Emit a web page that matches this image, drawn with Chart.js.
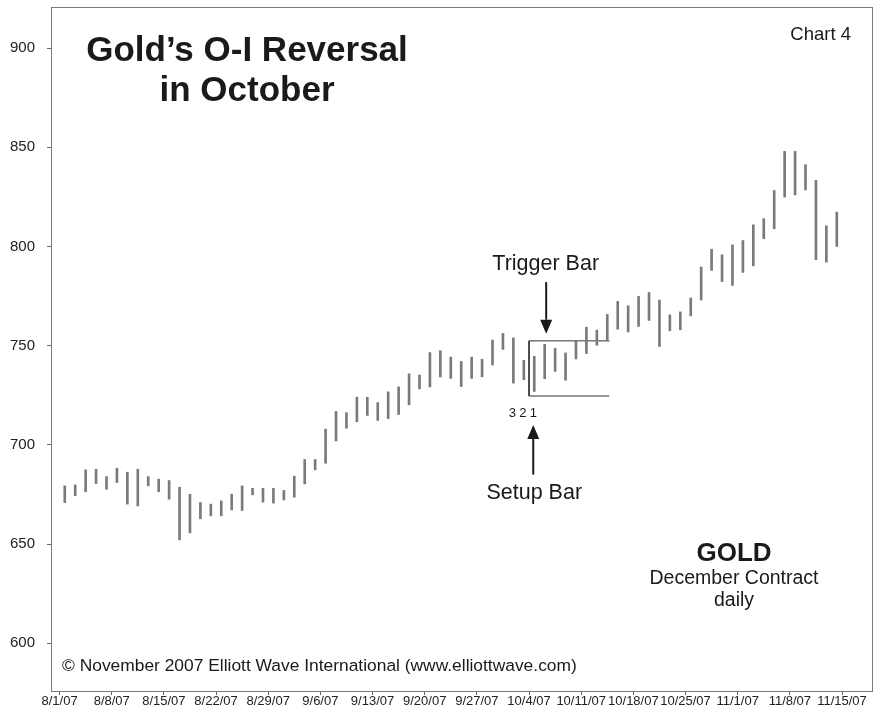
<!DOCTYPE html>
<html>
<head>
<meta charset="utf-8">
<script src="https://cdn.jsdelivr.net/npm/chart.js@4.4.0/dist/chart.umd.min.js"></script>
<style>
html,body{margin:0;padding:0;background:#fff}
#wrap{width:879px;height:709px;position:relative}
</style>
</head>
<body>
<div id="wrap"><canvas id="goldChart"></canvas></div>
<script>

/* DATA */

const tickLabels = ["8/1/07","8/8/07","8/15/07","8/22/07","8/29/07","9/6/07","9/13/07","9/20/07",
"9/27/07","10/4/07","10/11/07","10/18/07","10/25/07","11/1/07","11/8/07","11/15/07"]

const days = [
"8/1","8/2","8/3","8/6","8/7","8/8","8/9","8/10","8/13","8/14","8/15","8/16","8/17",
"8/20","8/21","8/22","8/23","8/24","8/27","8/28","8/29","8/30","8/31",
"9/4","9/5","9/6","9/7","9/10","9/11","9/12","9/13","9/14","9/17","9/18","9/19","9/20","9/21",
"9/24","9/25","9/26","9/27","9/28",
"10/1","10/2","10/3","10/4","10/5","10/8","10/9","10/10","10/11","10/12","10/15","10/16","10/17",
"10/18","10/19","10/22","10/23","10/24","10/25","10/26","10/29","10/30","10/31",
"11/1","11/2","11/5","11/6","11/7","11/8","11/9","11/12","11/13","11/14"]

const highs = [
679.3,679.8,687.4,687.7,684.0,688.2,686.2,687.7,684.0,682.7,682.0,678.6,675.1,
670.9,670.1,671.7,675.1,679.3,678.1,678.1,678.1,677.0,684.2,
692.6,692.6,707.9,716.8,716.2,724.0,724.0,721.3,726.7,729.2,735.8,735.2,746.5,747.4,
744.2,742.0,744.2,743.1,752.8,
756.1,753.9,742.6,744.6,750.6,748.6,746.3,752.4,759.3,757.8,765.7,772.3,770.1,
774.8,776.8,773.0,765.5,767.0,774.0,789.6,798.6,795.8,800.8,
803.0,810.9,814.0,828.2,847.9,847.9,841.2,833.3,810.4,817.3]

const lows = [
670.9,674.4,676.4,680.5,677.6,681.0,670.1,669.2,679.3,676.4,672.6,652.1,655.6,
662.7,664.2,664.2,667.2,666.9,674.8,671.1,670.6,672.2,673.6,
680.3,687.4,690.7,702.0,708.4,711.6,714.8,712.3,713.2,715.3,720.2,728.2,729.2,734.2,
733.5,729.4,733.5,734.3,740.2,
748.1,731.1,732.8,726.9,733.3,737.0,732.6,743.3,746.0,750.2,752.4,758.3,756.9,
759.7,762.7,749.6,757.5,758.0,765.0,773.0,787.9,782.3,780.3,
786.9,790.2,803.9,808.9,824.9,826.0,828.5,793.3,792.1,800.0]

/* setup / trigger box, in axis units */
const boxLeft = 45
const boxRight = 52.7
const boxTop = 752.4
const boxBottom = 724.6

const countLabels = ["3","2","1"]
const countDays = [43,44,45]

const setupDay = 45
const triggerDay = 46


/* CHART */

const font = "'Liberation Sans', Arial, Helvetica, sans-serif"

const notes = {

id:"notes",

afterDraw(chart){

const ctx = chart.ctx
const a = chart.chartArea
const xs = chart.scales.x
const ys = chart.scales.y

ctx.save()

ctx.strokeStyle = "#7a7a7a"
ctx.lineWidth = 1
ctx.strokeRect(a.left + 0.5, a.top + 0.5, a.right - a.left - 1, a.bottom - a.top)

ctx.fillStyle = "#1a1a1a"
ctx.textAlign = "center"
ctx.textBaseline = "alphabetic"

ctx.font = "bold 35px " + font
ctx.fillText("Gold\u2019s O-I Reversal", 247, 61)
ctx.fillText("in October", 247, 101)

ctx.font = "18.5px " + font
ctx.textAlign = "right"
ctx.fillText("Chart 4", 851, 40)

ctx.textAlign = "center"
const tx = xs.getPixelForValue(triggerDay + 0.5)
ctx.font = "21.5px " + font
ctx.fillText("Trigger Bar", tx + 1, ys.getPixelForValue(788))
arrow(ctx, tx + 1.5, ys.getPixelForValue(782), ys.getPixelForValue(756))

const sx = xs.getPixelForValue(setupDay + 0.5)
ctx.fillText("Setup Bar", sx, ys.getPixelForValue(672.8))
arrow(ctx, sx - 1, ys.getPixelForValue(685), ys.getPixelForValue(710))

ctx.font = "13px " + font
countDays.forEach((d,i)=>{
ctx.fillText(countLabels[i], xs.getPixelForValue(d + 0.5) - 1, ys.getPixelForValue(714))
})

ctx.font = "bold 26px " + font
ctx.fillText("GOLD", 734, 561)
ctx.font = "19.5px " + font
ctx.fillText("December Contract", 734, 584)
ctx.fillText("daily", 734, 606)

ctx.font = "17.4px " + font
ctx.textAlign = "left"
ctx.fillText("\u00A9 November 2007 Elliott Wave International (www.elliottwave.com)", 62, 671)

ctx.restore()

}

}

function arrow(ctx, x, tail, tip){

const dir = tip > tail ? 1 : -1
const head = 14

ctx.strokeStyle = "#1a1a1a"
ctx.lineWidth = 2
ctx.beginPath()
ctx.moveTo(x, tail)
ctx.lineTo(x, tip - dir*head)
ctx.stroke()

ctx.beginPath()
ctx.moveTo(x, tip)
ctx.lineTo(x - 6, tip - dir*head)
ctx.lineTo(x + 6, tip - dir*head)
ctx.closePath()
ctx.fill()

}

const goldChart = new Chart(

document.getElementById("goldChart"),

{

type:"bar",

data:{

datasets:[{

data: days.map((d,i)=>({x: i + 0.5, y: [lows[i], highs[i]]})),

backgroundColor:"#7a7a7a",

barThickness:2,

borderWidth:0

},{

type:"line",

data:[
{x: boxRight, y: boxTop},
{x: boxLeft, y: boxTop},
{x: boxLeft, y: boxBottom},
{x: boxRight, y: boxBottom}
],

borderColor:"#333",

borderWidth:1,

pointRadius:0,

tension:0,

fill:false

}]

},

options:{

responsive:true,

maintainAspectRatio:false,

animation:false,

layout:{padding:{left:0, top:7, right:6, bottom:0}},

plugins:{legend:{display:false}, tooltip:{enabled:false}},

scales:{

x:{

type:"linear",

min:-0.82,

max:77.97,

offset:false,

grid:{offset:false, drawOnChartArea:false, color:"#666", tickLength:4},

border:{display:false},

ticks:{

stepSize:5,

includeBounds:false,

autoSkip:false,

maxRotation:0,

padding:0,

color:"#222",

font:{family:font, size:13, lineHeight:1},

callback:v => tickLabels[v/5] || ""

},

afterFit:s => { s.height = 18; s.paddingLeft = 0; s.paddingRight = 0 }

},

y:{

min:575.9,

max:920.7,

grid:{drawOnChartArea:false, color:"#666", tickLength:4},

border:{display:false},

ticks:{

stepSize:50,

includeBounds:false,

padding:12,

color:"#222",

font:{family:font, size:15}

},

afterFit:s => { s.width = 51; s.paddingTop = 0; s.paddingBottom = 0 }

}

}

},

plugins:[notes]

}

)

</script>
</body>
</html>
